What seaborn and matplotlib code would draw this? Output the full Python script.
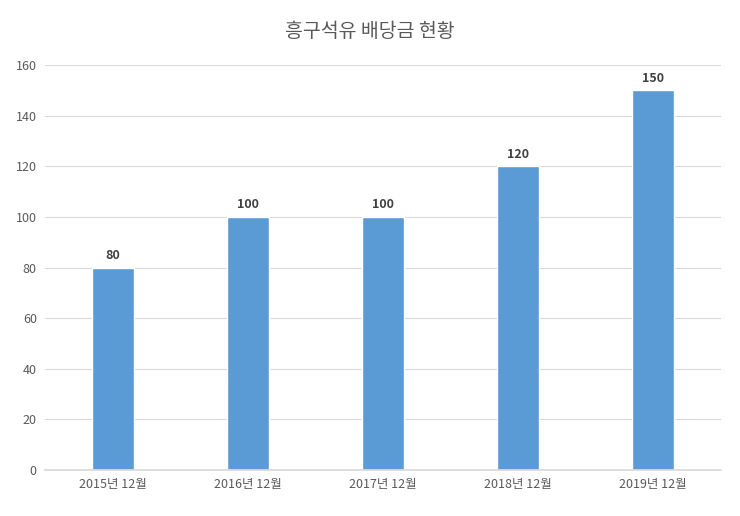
import matplotlib
matplotlib.use("Agg")
import matplotlib.pyplot as plt
import seaborn as sns
import pandas as pd

categories = ["2015년 12월", "2016년 12월", "2017년 12월", "2018년 12월", "2019년 12월"]
values = [80, 100, 100, 120, 150]
yticks = [0, 20, 40, 60, 80, 100, 120, 140, 160]

sns.set_theme(style="whitegrid")
plt.rcParams['font.family'] = ['Noto Sans CJK KR', 'DejaVu Sans']

df = pd.DataFrame({"cat": categories, "val": values})
fig = plt.figure(figsize=(7.4, 5.16), dpi=100)
ax = fig.add_axes([0.061, 0.089, 0.913, 0.785])
sns.barplot(data=df, x="cat", y="val", color="#5B9BD5", width=0.31, saturation=1, ax=ax)
ax.set_ylim(0, 160)
ax.set_yticks(yticks)
ax.set_xlabel("")
ax.set_ylabel("")
ax.grid(axis="y", color="#D9D9D9", linewidth=0.8)
ax.grid(axis="x", visible=False)
for s in ["left", "right", "top"]:
    ax.spines[s].set_visible(False)
ax.spines["bottom"].set_color("#D9D9D9")
ax.tick_params(axis="both", length=0, labelsize=9, colors="#595959", pad=6)
for c in ax.containers:
    ax.bar_label(c, fmt="%d", padding=4, fontsize=9, fontweight="bold", color="#404040")
fig.suptitle("흥구석유 배당금 현황", y=0.96, fontsize=14, color="#595959")
fig.savefig("out.png", dpi=100)
